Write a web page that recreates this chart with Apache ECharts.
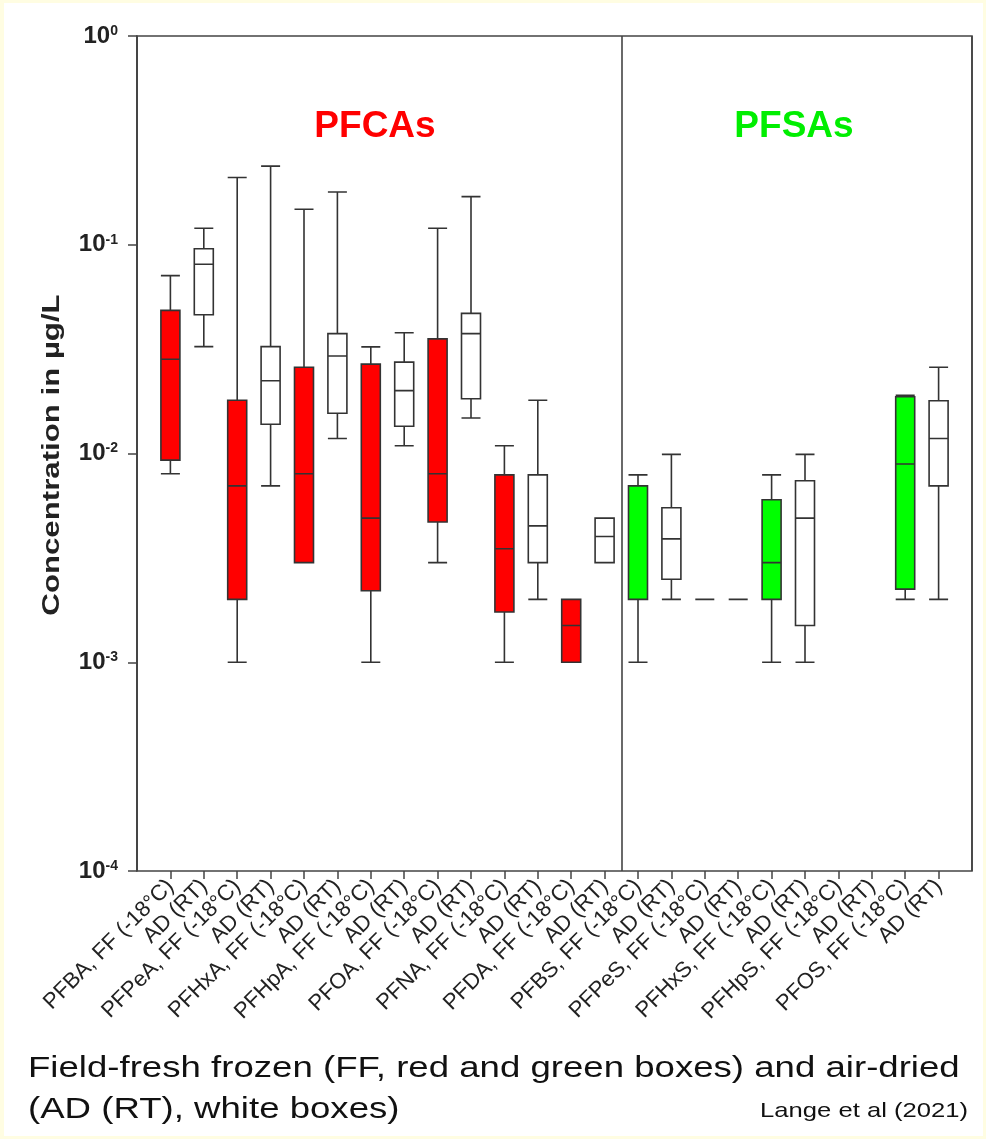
<!DOCTYPE html>
<html>
<head>
<meta charset="utf-8">
<script src="https://cdn.jsdelivr.net/npm/echarts@6/dist/echarts.min.js"></script>
<style>
  html, body { margin: 0; padding: 0; background: #fffde2; }
  #chart { position: absolute; left: 4px; top: 3px; width: 979px; height: 1133px; background: #fff; }
</style>
</head>
<body>
<div id="chart"></div>
<script>
// categories, box stats (min, Q1, median, Q3, max) in µg/L; null = no data
const categories = [
  'PFBA, FF (-18°C)', 'AD (RT)', 'PFPeA, FF (-18°C)', 'AD (RT)',
  'PFHxA, FF (-18°C)', 'AD (RT)', 'PFHpA, FF (-18°C)', 'AD (RT)',
  'PFOA, FF (-18°C)', 'AD (RT)', 'PFNA, FF (-18°C)', 'AD (RT)',
  'PFDA, FF (-18°C)', 'AD (RT)', 'PFBS, FF (-18°C)', 'AD (RT)',
  'PFPeS, FF (-18°C)', 'AD (RT)', 'PFHxS, FF (-18°C)', 'AD (RT)',
  'PFHpS, FF (-18°C)', 'AD (RT)', 'PFOS, FF (-18°C)', 'AD (RT)'
];
const mins = [0.008, 0.0325, 0.001, 0.007, 0.003, 0.0118, 0.001, 0.0109, 0.003, 0.0148, 0.001, 0.002,
  0.001, 0.003, 0.001, 0.002, 0.002, 0.002, 0.001, 0.001, null, null, 0.002, 0.002];
const q1s = [0.0093, 0.0462, 0.002, 0.0138, 0.003, 0.0156, 0.0022, 0.0135, 0.0047, 0.0183, 0.00174, 0.003,
  0.001, 0.003, 0.002, 0.0025, 0.002, 0.002, 0.002, 0.0015, null, null, 0.00224, 0.007];
const medians = [0.0283, 0.0806, 0.007, 0.0223, 0.008, 0.0293, 0.0049, 0.02, 0.008, 0.0375, 0.0035, 0.0045,
  0.0015, 0.004, 0.002, 0.0039, 0.002, 0.002, 0.003, 0.0049, null, null, 0.0089, 0.0118];
const q3s = [0.0485, 0.0957, 0.018, 0.0325, 0.0259, 0.0375, 0.0268, 0.0274, 0.0354, 0.0469, 0.0079, 0.0079,
  0.002, 0.0049, 0.007, 0.0055, 0.002, 0.002, 0.006, 0.0074, null, null, 0.0187, 0.0179];
const maxs = [0.0711, 0.12, 0.21, 0.238, 0.148, 0.179, 0.0324, 0.0379, 0.12, 0.17, 0.0109, 0.018,
  0.002, 0.0049, 0.0079, 0.0099, 0.002, 0.002, 0.0079, 0.0099, null, null, 0.019, 0.0259];
const groupSplit = 14; // index of first PFSA category

const FONT = '"Liberation Sans", Arial, sans-serif';
const INK = '#222';

// frame spans 25 category slots, boxes sit on slots 1..24
const frameLeft = 133, frameTop = 33, frameSize = 835;
const slot = frameSize / (categories.length + 1);

function fillFor(i) {
  if (i % 2 === 1) return '#ffffff';
  return i < groupSplit ? '#ff0000' : '#00ff00';
}

const boxData = [];
categories.forEach((c, i) => {
  if (mins[i] == null) return;
  boxData.push({
    value: [i, mins[i], q1s[i], medians[i], q3s[i], maxs[i]],
    itemStyle: { color: fillFor(i) }
  });
});

const chart = echarts.init(document.getElementById('chart'));
chart.setOption({
  animation: false,
  grid: [
    { left: frameLeft, top: frameTop, width: frameSize, height: frameSize, show: true, borderColor: '#444', borderWidth: 1.6 },
    { left: frameLeft + slot / 2, top: frameTop, width: slot * categories.length, height: frameSize }
  ],
  xAxis: [
    {
      // slot units: separator between PFDA AD and PFBS FF
      gridIndex: 0, type: 'value', min: 0, max: categories.length + 1, interval: groupSplit + 0.5,
      axisLine: { show: false }, axisTick: { show: false }, axisLabel: { show: false },
      splitLine: { show: true, lineStyle: { color: '#444', width: 1.6 } }
    },
    {
      gridIndex: 1,
      type: 'category',
      data: categories,
      axisLine: { show: false },
      axisTick: { show: true, alignWithLabel: true, length: 8, lineStyle: { color: '#444', width: 1.5 } },
      splitLine: { show: false },
      axisLabel: {
        interval: 0,
        rotate: 45,
        margin: 12,
        fontFamily: FONT,
        fontSize: 22,
        color: INK
      }
    }
  ],
  yAxis: [
    {
      gridIndex: 0,
      type: 'log',
      logBase: 10,
      min: 0.0001,
      max: 1,
      axisLine: { show: true, lineStyle: { color: '#444', width: 1.6 } },
      axisTick: { show: true, length: 9, lineStyle: { color: '#444', width: 1.5 } },
      splitLine: { show: false },
      axisLabel: {
        margin: 19,
        formatter: (v) => '{b|10}{s|' + Math.round(Math.log10(v)) + '}',
        rich: {
          b: { fontFamily: FONT, fontSize: 24, fontWeight: 'bold', color: INK },
          s: { fontFamily: FONT, fontSize: 14, fontWeight: 'bold', color: INK, verticalAlign: 'top' }
        }
      }
    },
    { gridIndex: 1, type: 'log', logBase: 10, min: 0.0001, max: 1, show: false }
  ],
  series: [{
    type: 'boxplot',
    xAxisIndex: 1,
    yAxisIndex: 1,
    encode: { x: 0, y: [1, 2, 3, 4, 5] },
    boxWidth: [19, 19],
    itemStyle: { borderColor: '#333', borderWidth: 1.6 },
    emphasis: { disabled: true },
    data: boxData
  }],
  graphic: [
    {
      type: 'text', x: 371, y: 124,
      style: { text: 'PFCAs', font: 'bold 37px ' + FONT, fill: '#ff0000', textAlign: 'center', textVerticalAlign: 'middle' }
    },
    {
      type: 'text', x: 790, y: 124,
      style: { text: 'PFSAs', font: 'bold 37px ' + FONT, fill: '#00ee00', textAlign: 'center', textVerticalAlign: 'middle' }
    },
    {
      type: 'text', x: 48, y: 452, rotation: Math.PI / 2, scaleX: 1.3,
      style: { text: 'Concentration in µg/L', font: 'bold 24px ' + FONT, fill: INK, textAlign: 'center', textVerticalAlign: 'middle' }
    },
    {
      type: 'text', x: 24, y: 1066, scaleX: 1.22,
      style: { text: 'Field-fresh frozen (FF, red and green boxes) and air-dried', font: '30px ' + FONT, fill: '#111', textAlign: 'left', textVerticalAlign: 'middle' }
    },
    {
      type: 'text', x: 24, y: 1107, scaleX: 1.22,
      style: { text: '(AD (RT), white boxes)', font: '30px ' + FONT, fill: '#111', textAlign: 'left', textVerticalAlign: 'middle' }
    },
    {
      type: 'text', x: 964, y: 1108, scaleX: 1.22,
      style: { text: 'Lange et al (2021)', font: '21px ' + FONT, fill: '#111', textAlign: 'right', textVerticalAlign: 'middle' }
    }
  ]
});
</script>
</body>
</html>
